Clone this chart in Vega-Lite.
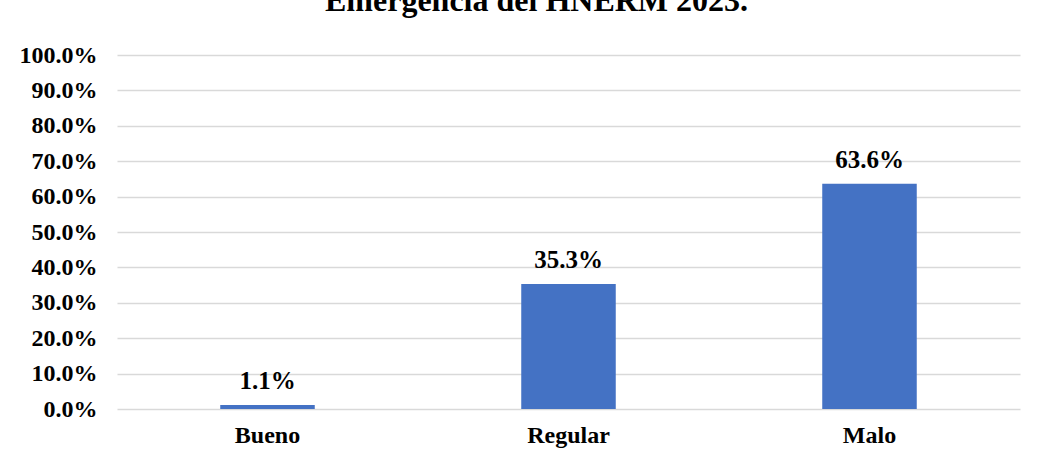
{
  "$schema": "https://vega.github.io/schema/vega-lite/v6.json",
  "autosize": {"type": "none"},
  "width": 903,
  "height": 354,
  "padding": {"left": 117, "top": 55, "right": 19, "bottom": 40},
  "background": "white",
  "title": {
    "text": "Emergencia del HNERM 2023.",
    "font": "Liberation Serif",
    "fontWeight": "bold",
    "fontSize": 32,
    "color": "black",
    "anchor": "middle",
    "baseline": "alphabetic",
    "offset": 0,
    "dx": -32
  },
  "data": {
    "values": [
      {"categoria": "Bueno", "pct": 0.011},
      {"categoria": "Regular", "pct": 0.353},
      {"categoria": "Malo", "pct": 0.636}
    ]
  },
  "encoding": {
    "x": {
      "field": "categoria",
      "type": "nominal",
      "sort": null,
      "scale": {"paddingInner": 0.686, "paddingOuter": 0.343},
      "axis": {
        "title": null,
        "labelAngle": 0,
        "labelFont": "Liberation Serif",
        "labelFontWeight": "bold",
        "labelFontSize": 24,
        "labelColor": "black",
        "labelPadding": 14,
        "domain": false,
        "ticks": false
      }
    },
    "y": {
      "field": "pct",
      "type": "quantitative",
      "scale": {"domain": [0, 1], "nice": false},
      "axis": {
        "title": null,
        "values": [0, 0.1, 0.2, 0.3, 0.4, 0.5, 0.6, 0.7, 0.8, 0.9, 1.0],
        "format": ".1%",
        "labelFont": "Liberation Serif",
        "labelFontWeight": "bold",
        "labelFontSize": 24,
        "labelColor": "black",
        "labelPadding": 20,
        "domain": false,
        "ticks": false,
        "grid": true,
        "gridColor": "#d9d9d9",
        "gridWidth": 1.5
      }
    }
  },
  "layer": [
    {"mark": {"type": "bar", "color": "#4472C4"}},
    {
      "mark": {
        "type": "text",
        "font": "Liberation Serif",
        "fontWeight": "bold",
        "fontSize": 25,
        "color": "black",
        "baseline": "alphabetic",
        "dy": -16
      },
      "encoding": {"text": {"field": "pct", "type": "quantitative", "format": ".1%"}}
    }
  ],
  "config": {"view": {"stroke": null}}
}
